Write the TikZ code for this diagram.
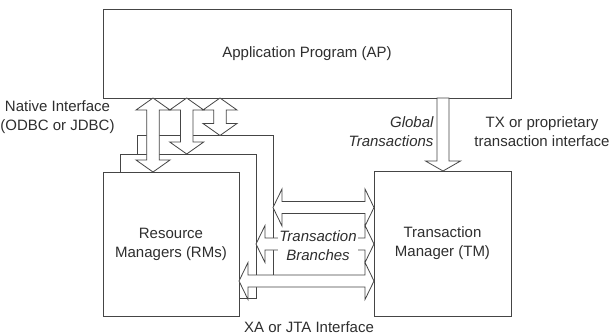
\documentclass[tikz,border=0pt]{standalone}
\usepackage{fontspec}
\setmainfont{Liberation Sans}
\usetikzlibrary{calc}
\definecolor{linegray}{HTML}{454545}
\definecolor{textgray}{HTML}{2E2E2E}
\tikzset{
  box/.style={draw=linegray, fill=white, line width=0.8pt, inner sep=0pt, outer sep=0pt,
    minimum width=136pt, minimum height=144pt, text=textgray, align=center,
    font=\fontsize{15}{19}\selectfont},
  blockarrow/.style={draw=linegray, fill=white, line width=0.8pt, line join=miter},
  lbl/.style={text=textgray, align=center, font=\fontsize{15}{19}\selectfont},
  itlbl/.style={text=textgray, font=\fontsize{15}{19}\selectfont\itshape}
}
% double block arrow, top end #1, bottom end #2
\newcommand{\vbiarrow}[2]{%
  \filldraw[blockarrow] let \p1=(#1), \p2=(#2) in
    (\x1,\y1) -- (\x1+17pt,\y1-12pt) -- (\x1+6.3pt,\y1-12pt) -- (\x1+6.3pt,\y2+12pt)
    -- (\x1+17pt,\y2+12pt) -- (\x2,\y2) -- (\x1-17pt,\y2+12pt) -- (\x1-6.3pt,\y2+12pt)
    -- (\x1-6.3pt,\y1-12pt) -- (\x1-17pt,\y1-12pt) -- cycle;}
% double block arrow, left end #1, right end #2
\newcommand{\hbiarrow}[2]{%
  \filldraw[blockarrow] let \p1=(#1), \p2=(#2) in
    (\x1,\y1) -- (\x1+9pt,\y1+18.5pt) -- (\x1+9pt,\y1+6pt) -- (\x2-9pt,\y1+6pt)
    -- (\x2-9pt,\y1+18.5pt) -- (\x2,\y1) -- (\x2-9pt,\y1-18.5pt) -- (\x2-9pt,\y1-6pt)
    -- (\x1+9pt,\y1-6pt) -- (\x1+9pt,\y1-18.5pt) -- cycle;}
% single block arrow pointing down
\newcommand{\vsarrow}[2]{%
  \filldraw[blockarrow] let \p1=(#1), \p2=(#2) in
    (\x1-6pt,\y1) -- (\x1+6pt,\y1) -- (\x1+6pt,\y2+10pt) -- (\x1+17.5pt,\y2+10pt)
    -- (\x2,\y2) -- (\x1-17.5pt,\y2+10pt) -- (\x1-6pt,\y2+10pt) -- cycle;}

\begin{document}
\begin{tikzpicture}[x=1pt,y=-1pt]
        \useasboundingbox (0,0) rectangle (612,335);

        \node[box, minimum width=408pt, minimum height=89pt] (ap) at (307,53.5) {Application Program (AP)};

        % stacked resource managers
        \node[box] (rmC) at (205,207.5) {};
        \node[box] (rmB) at (188,226) {};
        \node[box] (rmA) at (171,244) {Resource\\Managers (RMs)};

        \node[box, minimum width=137pt, minimum height=145pt] (tm) at (442.5,243.5) {Transaction\\Manager (TM)};

        % native interface
        \coordinate (nA) at ([xshift=50pt]rmA.north west);
        \coordinate (nB) at ([xshift=66.7pt]rmB.north west);
        \coordinate (nC) at ([xshift=83pt]rmC.north west);
        \vbiarrow{nA |- ap.south}{nA}
        \vbiarrow{nB |- ap.south}{nB}
        \vbiarrow{nC |- ap.south}{nC}

        % global transactions
        \coordinate (g) at ([xshift=69pt]tm.north west);
        \vsarrow{g |- ap.south}{g}

        % transaction branches
        \coordinate (bC) at ([yshift=-72pt]rmC.north east);
        \coordinate (bB) at ([yshift=-90pt]rmB.north east);
        \coordinate (bA) at ([yshift=-109pt]rmA.north east);
        \hbiarrow{bC}{bC -| tm.west}
        \hbiarrow{bB}{bB -| tm.west}
        \hbiarrow{bA}{bA -| tm.west}

        \node[lbl] (native) at (57.5,117.5) {Native Interface\\(ODBC or JDBC)};
        \node[itlbl, anchor=east, align=right] (glob) at (437,132) {Global\\Transactions};
        \node[lbl] (txif) at (542,132) {TX or proprietary\\transaction interface};
        \node[itlbl, align=center, fill=white, inner sep=1pt] (branch) at (318,245.5) {Transaction\\Branches};
        \node[lbl] (xa) at (309,327) {XA or JTA Interface};

\end{tikzpicture}
\end{document}
